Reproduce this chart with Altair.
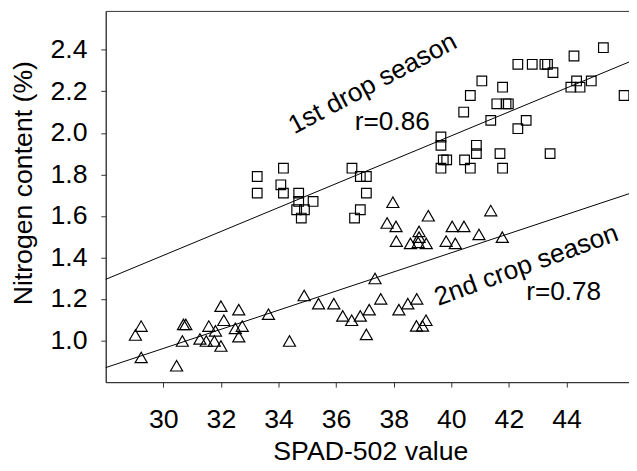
import altair as alt
import pandas as pd

# ---- data ----
sq_x = [33.26, 34.17, 33.26, 34.08, 34.17, 34.70, 34.70, 35.20, 34.63, 34.90, 34.79,
        36.55, 36.84, 37.05, 37.05, 36.84, 36.64,
        39.64, 39.64, 39.72, 39.84, 39.64, 40.43, 40.66, 41.06, 41.37, 40.87, 40.87,
        40.46, 40.66, 41.69, 41.78, 41.78, 41.58, 41.90, 41.98, 42.31, 42.60, 42.31,
        42.81, 43.25, 43.34, 43.53, 43.43, 44.26, 45.28, 44.15, 44.47, 44.35, 44.86, 46.00]
sq_y = [1.79, 1.83, 1.71, 1.75, 1.71, 1.71, 1.67, 1.67, 1.63, 1.63, 1.59,
        1.83, 1.79, 1.79, 1.71, 1.63, 1.59,
        1.98, 1.94, 1.87, 1.87, 1.83, 2.10, 2.18, 2.25, 2.06, 1.94, 1.90,
        1.87, 1.83, 1.90, 1.83, 2.22, 2.14, 2.14, 2.14, 2.02, 2.06, 2.33,
        2.33, 2.33, 2.33, 2.29, 1.90, 2.37, 2.41, 2.22, 2.22, 2.25, 2.25, 2.18]

tri_x = [29.23, 29.03, 29.23, 30.46, 30.70, 30.78, 30.66, 31.27, 31.58, 31.81, 31.49,
         31.77, 32.00, 32.00, 32.10, 32.62, 32.50, 32.74, 32.62, 33.65, 34.38,
         37.97, 39.20, 41.37, 37.77, 38.08, 38.88, 40.03, 40.44, 40.96, 41.77,
         38.09, 38.58, 38.88, 39.13, 39.82, 40.14, 38.85,
         37.35, 34.89, 35.39, 35.92, 37.55, 36.23, 36.54, 36.84, 37.15, 38.18,
         38.49, 38.80, 38.79, 39.00, 39.12, 37.05]
tri_y = [1.070, 1.027, 0.919, 0.879, 1.078, 1.078, 0.998, 1.008, 1.070, 1.047, 0.998,
         0.998, 0.974, 1.166, 1.098, 1.149, 1.059, 1.070, 1.019, 1.127, 0.998,
         1.666, 1.601, 1.626, 1.566, 1.550, 1.526, 1.550, 1.550, 1.511, 1.498,
         1.479, 1.468, 1.498, 1.468, 1.479, 1.468, 1.473,
         1.299, 1.217, 1.178, 1.178, 1.201, 1.119, 1.098, 1.119, 1.149, 1.149,
         1.178, 1.201, 1.071, 1.071, 1.098, 1.030]

# fitted lines, values read at the two ends of the x range
fit_x = [28.0, 46.17]
fit1_y = [1.295, 2.341]
fit2_y = [0.870, 1.707]

x_ticks = [30, 32, 34, 36, 38, 40, 42, 44]
y_ticks = [1.0, 1.2, 1.4, 1.6, 1.8, 2.0, 2.2, 2.4]

ann_text = ["1st drop season", "r=0.86", "2nd crop season", "r=0.78"]
ann_x = [37.40, 37.95, 42.70, 43.90]
ann_y = [2.203, 2.012, 1.326, 1.197]
ann_angle = [332, 0, 340, 0]

X_DOMAIN = [28.0, 46.17]
Y_DOMAIN = [0.80, 2.587]
FONT = "Liberation Sans"

sq = pd.DataFrame({"x": sq_x, "y": sq_y})
tri = pd.DataFrame({"x": tri_x, "y": tri_y})
fits = pd.DataFrame({
    "x": fit_x + fit_x,
    "y": fit1_y + fit2_y,
    "s": ["1st"] * 2 + ["2nd"] * 2,
})
ann = pd.DataFrame({"t": ann_text, "x": ann_x, "y": ann_y, "a": ann_angle})

xs = alt.Scale(domain=X_DOMAIN, nice=False, zero=False)
ys = alt.Scale(domain=Y_DOMAIN, nice=False, zero=False)

x_axis = alt.Axis(values=x_ticks, title="SPAD-502 value", grid=False, tickSize=5,
                  labelFontSize=27, titleFontSize=27, labelFont=FONT, titleFont=FONT,
                  labelColor="black", titleColor="black", domainColor="#333",
                  tickColor="#333", labelPadding=20, labelOverlap=False,
                  titleFontWeight="normal", titleX=268, titleY=78,
                  titleBaseline="alphabetic", titleAlign="center")
y_axis = alt.Axis(values=y_ticks, format=".1f", title="Nitrogen content (%)", grid=False,
                  tickSize=5, labelFontSize=27, titleFontSize=27, labelFont=FONT,
                  titleFont=FONT, labelColor="black", titleColor="black",
                  domainColor="#333", tickColor="#333", labelPadding=14,
                  labelOverlap=False, titleFontWeight="normal", titleAngle=270,
                  titleX=-75, titleY=174, titleBaseline="alphabetic", titleAlign="center")

base_x = alt.X("x:Q", scale=xs, axis=x_axis)
base_y = alt.Y("y:Q", scale=ys, axis=y_axis)

squares = alt.Chart(sq).mark_point(shape="square", filled=False, size=95,
                                   strokeWidth=1.2, color="black", opacity=1).encode(
    x=base_x, y=base_y)
triangles = alt.Chart(tri).mark_point(shape="triangle-up", filled=False, size=150,
                                      strokeWidth=1.2, color="black", opacity=1).encode(
    x=alt.X("x:Q", scale=xs), y=alt.Y("y:Q", scale=ys))
lines = alt.Chart(fits).mark_line(color="black", strokeWidth=1).encode(
    x=alt.X("x:Q", scale=xs), y=alt.Y("y:Q", scale=ys), detail="s:N")
labels = alt.Chart(ann).mark_text(font=FONT, fontSize=26.5, color="black",
                                  align="center", baseline="alphabetic").encode(
    x=alt.X("x:Q", scale=xs), y=alt.Y("y:Q", scale=ys), text="t:N",
    angle=alt.Angle("a:Q", scale=None))

chart = alt.layer(lines, squares, triangles, labels).properties(
    width=530, height=376,
    autosize="none",
    padding={"left": 99, "top": 0, "right": 0, "bottom": 84},
).configure_view(stroke="#333", strokeWidth=1)

chart.save("out.html", embed_options={"renderer": "svg", "actions": False})
